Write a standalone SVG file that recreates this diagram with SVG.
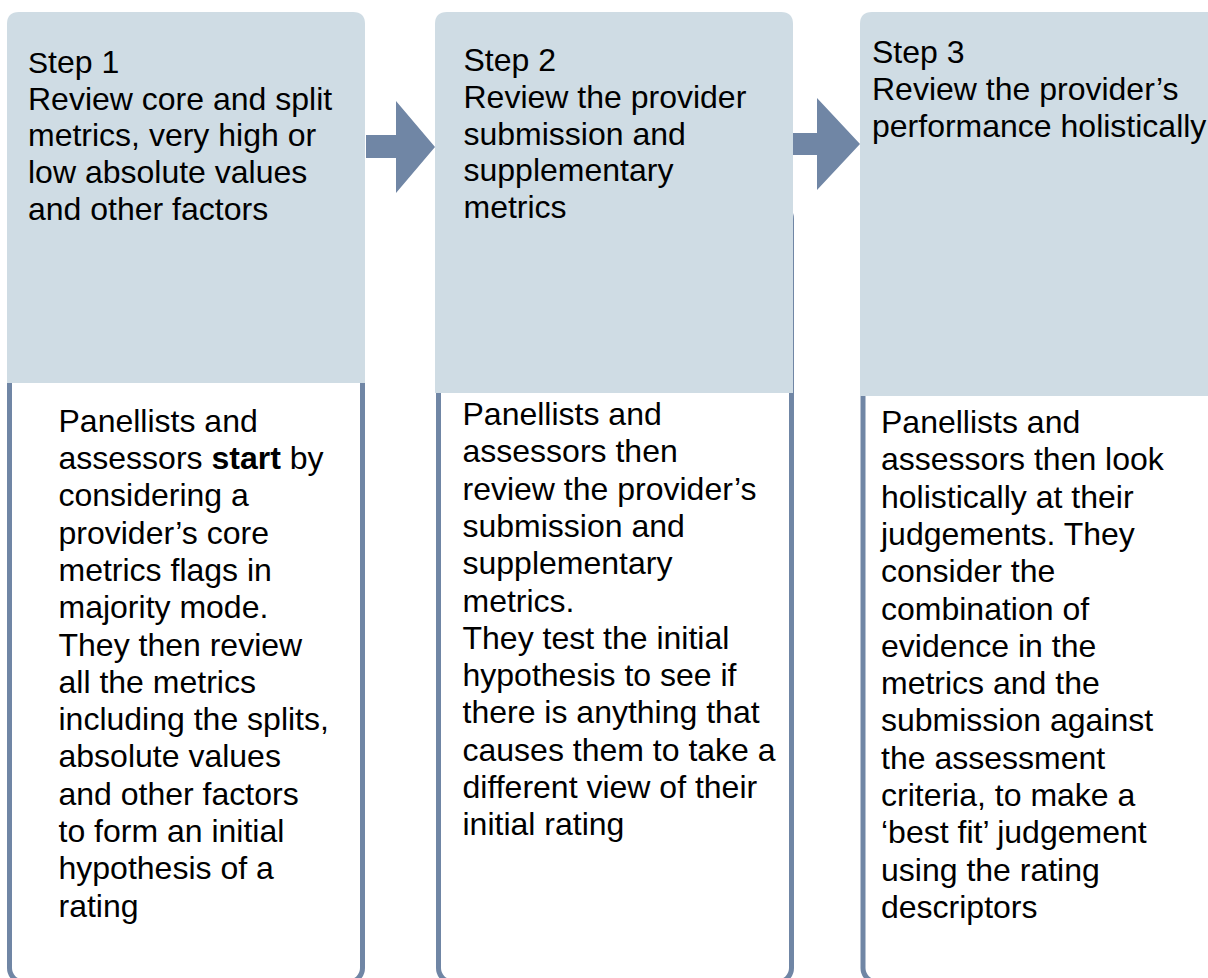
<svg xmlns="http://www.w3.org/2000/svg" width="1208" height="978" viewBox="0 0 1208 978">
<style>
.hdr{fill:#CFDCE4}
.body{fill:#FFFFFF;stroke:#7086A5;stroke-width:5}
.arrow{fill:#7086A5}
text{font-family:"Liberation Sans",Arial,sans-serif;font-size:32px;fill:#000}
</style>
<rect width="1208" height="978" fill="#FFFFFF"/>
<g id="step1">
<rect class="body" x="9.5" y="200" width="353" height="782" rx="14"/>
<path class="hdr" d="M7,383 V24 Q7,12 19,12 H353 Q365,12 365,24 V383 Z"/>
<text x="28"><tspan y="72.7"><tspan font-size="30">S</tspan>tep 1</tspan><tspan x="28" y="109.5">Review core and split</tspan><tspan x="28" y="146.3">metrics, very high or</tspan><tspan x="28" y="183.1">low absolute values</tspan><tspan x="28" y="219.9">and other factors</tspan></text>
<text x="58.5"><tspan y="431.7">Panellists and</tspan><tspan x="58.5" y="469">assessors <tspan font-weight="bold">start</tspan> by</tspan><tspan x="58.5" y="506.3">considering a</tspan><tspan x="58.5" y="543.6">provider’s core</tspan><tspan x="58.5" y="580.9">metrics flags in</tspan><tspan x="58.5" y="618.2">majority mode.</tspan><tspan x="58.5" y="655.5">They then review</tspan><tspan x="58.5" y="692.8">all the metrics</tspan><tspan x="58.5" y="730.1">including the splits,</tspan><tspan x="58.5" y="767.4">absolute values</tspan><tspan x="58.5" y="804.7">and other factors</tspan><tspan x="58.5" y="842">to form an initial</tspan><tspan x="58.5" y="879.3">hypothesis of a</tspan><tspan x="58.5" y="916.6">rating</tspan></text>
</g>
<g id="step2">
<rect class="body" x="438.5" y="205" width="353" height="777" rx="14"/>
<path class="hdr" d="M435,393 V24 Q435,12 447,12 H781 Q793,12 793,24 V393 Z"/>
<text x="463.5"><tspan y="71">Step 2</tspan><tspan x="463.5" y="107.8">Review the provider</tspan><tspan x="463.5" y="144.6">submission and</tspan><tspan x="463.5" y="181.4">supplementary</tspan><tspan x="463.5" y="218.2">metrics</tspan></text>
<text x="462.5"><tspan y="425">Panellists and</tspan><tspan x="462.5" y="462.3">assessors then</tspan><tspan x="462.5" y="499.6">review the provider’s</tspan><tspan x="462.5" y="536.9">submission and</tspan><tspan x="462.5" y="574.2">supplementary</tspan><tspan x="462.5" y="611.5">metrics.</tspan><tspan x="462.5" y="648.8">They test the initial</tspan><tspan x="462.5" y="686.1">hypothesis to see if</tspan><tspan x="462.5" y="723.4">there is anything that</tspan><tspan x="462.5" y="760.7">causes them to take a</tspan><tspan x="462.5" y="798">different view of their</tspan><tspan x="462.5" y="835.3">initial rating</tspan></text>
</g>
<g id="step3">
<rect class="body" x="863" y="205" width="360" height="777" rx="14"/>
<path class="hdr" d="M860,396 V24 Q860,12 872,12 H1220 V396 Z"/>
<text x="872"><tspan y="63">Step 3</tspan><tspan x="872" y="99.8">Review the provider’s</tspan><tspan x="872" y="136.6">performance holistically</tspan></text>
<text x="881"><tspan y="433">Panellists and</tspan><tspan x="881" y="470.3">assessors then look</tspan><tspan x="881" y="507.6">holistically at their</tspan><tspan x="881" y="544.9">judgements. They</tspan><tspan x="881" y="582.2">consider the</tspan><tspan x="881" y="619.5">combination of</tspan><tspan x="881" y="656.8">evidence in the</tspan><tspan x="881" y="694.1">metrics and the</tspan><tspan x="881" y="731.4">submission against</tspan><tspan x="881" y="768.7">the assessment</tspan><tspan x="881" y="806">criteria, to make a</tspan><tspan x="881" y="843.3">‘best fit’ judgement</tspan><tspan x="881" y="880.6">using the rating</tspan><tspan x="881" y="917.9">descriptors</tspan></text>
</g>
<g id="connectors">
<path class="arrow" d="M366,135 H396 V101 L435,147 L396,193 V158 H366 Z"/>
<path class="arrow" d="M793,133 H817 V98 L860,144 L817,190 V155 H793 Z"/>
</g>
</svg>
